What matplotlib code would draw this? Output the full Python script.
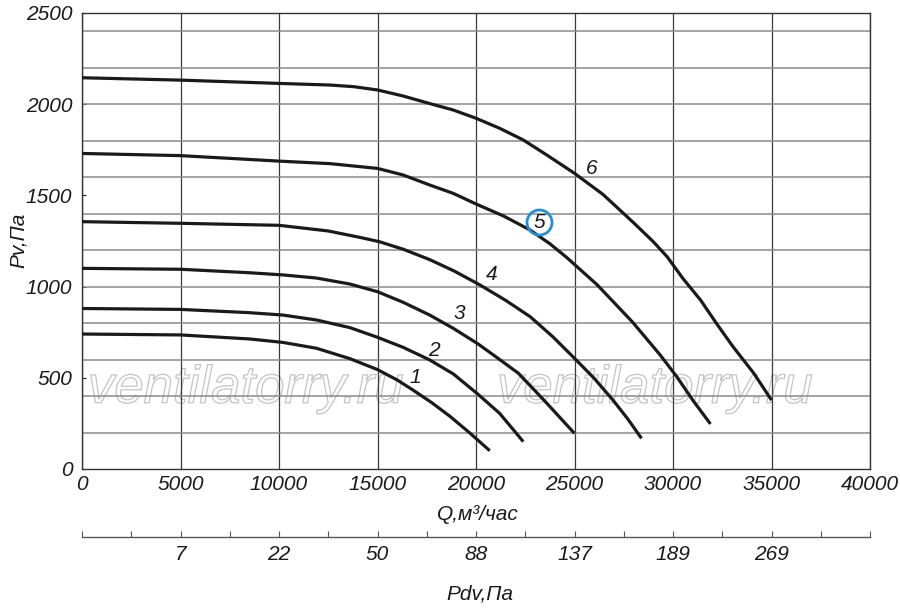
import numpy as np
import matplotlib
matplotlib.use("Agg")
import matplotlib.pyplot as plt
import matplotlib.patheffects as pe
from matplotlib import font_manager

# Q, м3/час  ->  Pv, Па  for the six fan curves
q1 = [0, 5000, 8500, 10200, 11900, 13600, 15000, 16000, 16800, 17750, 18700, 19700, 20700]
p1 = [740, 735, 713, 694, 662, 605, 545, 488, 433, 364, 287, 196, 100]

q2 = [0, 5000, 8500, 10200, 11900, 13600, 15000, 16300, 17650, 18850, 20100, 21200, 22400]
p2 = [880, 875, 857, 844, 817, 775, 722, 667, 598, 521, 410, 305, 150]

q3 = [0, 5000, 8500, 10200, 11900, 13600, 15000, 16300, 17650, 18850, 20100, 21050, 22150,
      22900, 23600, 25000]
p3 = [1100, 1095, 1076, 1064, 1047, 1014, 972, 914, 844, 771, 686, 612, 525,
      440, 360, 195]

q4 = [0, 5000, 10000, 12500, 14100, 15100, 16300, 17650, 18900, 20200, 21500, 22750, 23900,
      25000, 26000, 26950, 27700, 28400]
p4 = [1356, 1347, 1336, 1305, 1270, 1246, 1205, 1148, 1085, 1009, 925, 835, 725,
      607, 497, 378, 275, 168]

q5 = [0, 5000, 10000, 12600, 15000, 16300, 17650, 18850, 20000, 21400, 22750, 23750, 24600,
      26150, 27950, 29350, 30200, 31000, 31900]
p5 = [1730, 1718, 1688, 1674, 1648, 1612, 1557, 1511, 1453, 1387, 1310, 1235, 1160,
      1010, 805, 625, 505, 378, 247]

q6 = [0, 5000, 10000, 12600, 13800, 15000, 16300, 17600, 18850, 20000, 21200, 22400, 23600,
      25000, 26450, 28000, 29000, 29700, 30500, 31400, 32200, 33050, 34100, 35000]
p6 = [2145, 2132, 2114, 2105, 2096, 2078, 2045, 2005, 1968, 1923, 1868, 1804, 1721,
      1621, 1505, 1350, 1246, 1164, 1045, 926, 799, 670, 525, 378]

curves = [(q1, p1), (q2, p2), (q3, p3), (q4, p4), (q5, p5), (q6, p6)]

# curve numbers and where they sit
curve_names = ["1", "2", "3", "4", "5", "6"]
name_q = [16900, 17870, 19140, 20810, 23200, 25890]
name_p = [500, 652, 855, 1069, 1354, 1650]

# dynamic pressure scale under the Q axis
pdv_q = [5000, 10000, 15000, 20000, 25000, 30000, 35000]
pdv_labels = ["7", "22", "50", "88", "137", "189", "269"]

names = {f.name for f in font_manager.fontManager.ttflist}
fam = "Liberation Sans Narrow" if "Liberation Sans Narrow" in names else "Liberation Sans"
fs = 16 if fam == "Liberation Sans Narrow" else 15
plt.rcParams["font.family"] = [fam, "DejaVu Sans"]
plt.rcParams["font.style"] = "italic"

fig = plt.figure(figsize=(9, 6.15), dpi=100)
ax = fig.add_axes([82 / 900, 1 - 469 / 615, 788 / 900, 456 / 615])
ax.set_xlim(0, 40000)
ax.set_ylim(0, 2500)

ax.set_xticks(np.arange(0, 40001, 5000))
ax.set_yticks(np.arange(0, 2501, 500))
ax.set_yticks(np.arange(200, 2500, 200), minor=True)
ax.yaxis.remove_overlapping_locs = False
ax.grid(which="major", axis="x", color="#3a3a3a", lw=0.9)
ax.grid(which="minor", axis="y", color="#8a8a8a", lw=1.1)
ax.tick_params(axis="x", which="both", length=0, labelsize=fs, pad=4, colors="#1a1a1a")
ax.tick_params(axis="y", which="major", length=3, direction="in", labelsize=fs, pad=7,
               colors="#1a1a1a")
ax.tick_params(axis="y", which="minor", length=0)
for s in ax.spines.values():
    s.set_color("#333333")
    s.set_linewidth(1.0)

# watermark
for xw in [0.208, 0.727]:
    ax.text(xw, 0.176, "ventilatorry.ru", transform=ax.transAxes, ha="center", va="center",
            fontsize=38, family="Liberation Sans", style="italic", color="none",
            path_effects=[pe.Stroke(linewidth=0.9, foreground="#c4c4c4")], zorder=1)

for q, p in curves:
    ax.plot(q, p, color="#1a1a1a", lw=2.3, solid_capstyle="butt", solid_joinstyle="round",
            zorder=3)

for name, xq, yp in zip(curve_names, name_q, name_p):
    ax.text(xq, yp, name, fontsize=fs, ha="center", va="center", color="#1a1a1a", zorder=4)
ax.plot([name_q[4]], [name_p[4]], "o", ms=18, mfc="none", mec="#1f8fd8", mew=2, zorder=4)

sec = ax.secondary_xaxis(-(537 - 469) / 456)
ticks = np.arange(0, 40001, 2500)
labels = [pdv_labels[pdv_q.index(t)] if t in pdv_q else "" for t in ticks]
sec.set_xticks(ticks, labels)
sec.tick_params(direction="in", length=4, width=0.8, color="#555555", labelcolor="#1a1a1a",
                labelsize=fs, pad=6)
sec.spines["bottom"].set_color("#555555")
sec.spines["bottom"].set_linewidth(1.0)

fig.text(478 / 900, 1 - 514 / 615, "Q,м³/час", ha="center", va="center", fontsize=fs,
         color="#1a1a1a")
fig.text(480 / 900, 1 - 594 / 615, "Pdv,Па", ha="center", va="center", fontsize=fs,
         color="#1a1a1a")
fig.text(18 / 900, 1 - 240 / 615, "Pv,Па", ha="center", va="center", fontsize=fs,
         rotation=90, color="#1a1a1a")

fig.savefig("out.png", dpi=100)
